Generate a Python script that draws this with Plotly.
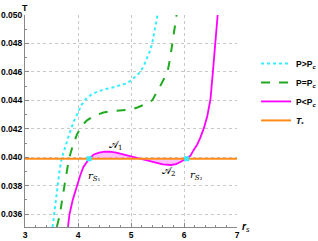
import plotly.graph_objects as go

T_star = 0.0399

r_hi = [3.52, 3.55, 3.58, 3.61, 3.65, 3.69, 3.76, 3.85, 3.93, 4.0, 4.07, 4.15, 4.25, 4.36, 4.5, 4.65, 4.8, 4.92, 5.0, 5.1, 5.18, 5.25, 5.31, 5.36, 5.4, 5.45, 5.5]
T_hi = [0.0351, 0.036, 0.037, 0.038, 0.039, 0.0399, 0.0408, 0.0418, 0.0426, 0.0432, 0.0437, 0.0441, 0.0444, 0.0446, 0.04478, 0.0449, 0.04505, 0.0452, 0.0454, 0.0457, 0.046, 0.0465, 0.047, 0.0475, 0.048, 0.049, 0.050]

r_c = [3.60, 3.63, 3.66, 3.70, 3.745, 3.79, 3.83, 3.90, 3.98, 4.07, 4.17, 4.3, 4.48, 4.65, 4.8, 5.0, 5.12, 5.25, 5.4, 5.48, 5.55, 5.62, 5.69, 5.74, 5.78, 5.82, 5.86]
T_c = [0.0351, 0.0355, 0.036, 0.037, 0.038, 0.039, 0.0399, 0.0408, 0.0416, 0.0422, 0.0426, 0.0429, 0.04315, 0.04325, 0.0433, 0.04335, 0.0435, 0.0437, 0.044, 0.0445, 0.045, 0.0455, 0.046, 0.047, 0.048, 0.049, 0.050]

r_lo = [3.81, 3.84, 3.9, 3.98, 4.04, 4.1, 4.21, 4.3, 4.4, 4.5, 4.6, 4.72, 4.85, 5.0, 5.18, 5.32, 5.45, 5.6, 5.75, 5.85, 5.95, 6.05, 6.12, 6.18, 6.25, 6.31, 6.38, 6.44, 6.47, 6.5, 6.545, 6.59, 6.635]
T_lo = [0.0351, 0.036, 0.037, 0.038, 0.0387, 0.0393, 0.0399, 0.0402, 0.04033, 0.04039, 0.0404, 0.04033, 0.0402, 0.04005, 0.0399, 0.03973, 0.0396, 0.0395, 0.03946, 0.03952, 0.0397, 0.0399, 0.0401, 0.0405, 0.0409, 0.0414, 0.0421, 0.0429, 0.0434, 0.0441, 0.0460, 0.0480, 0.0500]

r_fill = [4.21, 4.3, 4.4, 4.5, 4.6, 4.72, 4.85, 5.0, 5.18, 5.32, 5.45, 5.6, 5.75, 5.85, 5.95, 6.05]
T_fill = [0.0399, 0.0402, 0.04033, 0.04039, 0.0404, 0.04033, 0.0402, 0.04005, 0.0399, 0.03973, 0.0396, 0.0395, 0.03946, 0.03952, 0.0397, 0.0399]

r_line = [3, 7]
r_pts = [4.21, 6.05]

x_ticks = [3, 4, 5, 6, 7]
y_ticks = [0.036, 0.038, 0.040, 0.042, 0.044, 0.046, 0.048, 0.050]
y_labels = ["0.036", "0.038", "0.040", "0.042", "0.044", "0.046", "0.048", "0.050"]

fnt = dict(family="Liberation Sans, Arial", size=8.5, color="black", weight="bold")

fig = go.Figure()
fig.add_trace(go.Scatter(x=[r_fill[0], r_fill[-1]], y=[T_star, T_star], mode="lines",
                         line=dict(width=0, color="rgba(0,0,0,0)"), showlegend=False, hoverinfo="skip"))
fig.add_trace(go.Scatter(x=r_fill, y=T_fill, mode="lines", line=dict(width=0),
                         fill="tonexty", fillcolor="rgba(255,130,255,0.5)", showlegend=False, hoverinfo="skip"))
fig.add_trace(go.Scatter(x=r_hi, y=T_hi, mode="lines", name="P>P<sub><i>c</i></sub>",
                         line=dict(color="#33eeff", width=2, dash="dot")))
fig.add_trace(go.Scatter(x=r_c, y=T_c, mode="lines", name="P=P<sub><i>c</i></sub>",
                         line=dict(color="#1faa1f", width=2, dash="dash")))
fig.add_trace(go.Scatter(x=r_lo, y=T_lo, mode="lines", name="P<P<sub><i>c</i></sub>",
                         line=dict(color="#ff00ff", width=1.8)))
fig.add_trace(go.Scatter(x=r_line, y=[T_star, T_star], mode="lines", name="<i>T</i><sub>*</sub>",
                         line=dict(color="#ff8c1a", width=2)))
fig.add_trace(go.Scatter(x=r_pts, y=[T_star, T_star], mode="markers", showlegend=False,
                         marker=dict(color="#33eeff", size=5, symbol="square")))

ann_font = dict(family="DejaVu Serif, serif", size=10, color="black")
fig.add_annotation(x=4.70, y=0.04086, text="𝒜<sub>1</sub>", showarrow=False, font=ann_font)
fig.add_annotation(x=5.70, y=0.0390, text="𝒜<sub>2</sub>", showarrow=False, font=ann_font)
fig.add_annotation(x=4.31, y=0.03862, text="<i>r</i><sub><i>S</i>₁</sub>", showarrow=False, font=ann_font)
fig.add_annotation(x=6.23, y=0.03869, text="<i>r</i><sub><i>S</i>₂</sub>", showarrow=False, font=ann_font)
fig.add_annotation(xref="paper", yref="paper", x=0.0, y=1.0, yanchor="bottom", xanchor="center", text="<b>T</b>",
                   showarrow=False, font=dict(family="Liberation Sans, Arial", size=9, color="black"))
fig.add_annotation(xref="paper", yref="paper", x=1.015, y=0.0, xanchor="left", yanchor="middle",
                   text="<b><i>r</i></b><sub><i>s</i></sub>",
                   showarrow=False, font=dict(family="Liberation Sans, Arial", size=10, color="black"))

fig.update_xaxes(range=[3, 7], tickvals=x_ticks, ticktext=[str(v) for v in x_ticks], tickfont=fnt,
                 showgrid=True, gridcolor="#c8c8c8", griddash="dot", gridwidth=1,
                 showline=True, linecolor="#888888", linewidth=1, ticks="inside", ticklen=4,
                 tickcolor="#888888", minor=dict(ticks="inside", ticklen=2, nticks=5, tickcolor="#888888"),
                 zeroline=False, automargin=False)
fig.update_yaxes(range=[0.0351, 0.0500], tickvals=y_ticks, ticktext=y_labels, tickfont=fnt,
                 showgrid=True, gridcolor="#c8c8c8", griddash="dot", gridwidth=1,
                 showline=True, linecolor="#888888", linewidth=1, ticks="inside", ticklen=4,
                 tickcolor="#888888", minor=dict(ticks="inside", ticklen=2, nticks=5, tickcolor="#888888"),
                 zeroline=False, automargin=False)

fig.update_layout(width=318, height=241, margin=dict(l=25, r=81, t=15, b=14, autoexpand=False),
                  plot_bgcolor="white", paper_bgcolor="white",
                  legend=dict(x=1.09, y=0.84, xanchor="left", yanchor="top", font=fnt,
                              bgcolor="rgba(0,0,0,0)", traceorder="normal", tracegroupgap=0))
fig.write_html("out.html", config={"displayModeBar": False},
               post_script="document.body.style.margin='0';document.body.style.overflow='hidden';")
